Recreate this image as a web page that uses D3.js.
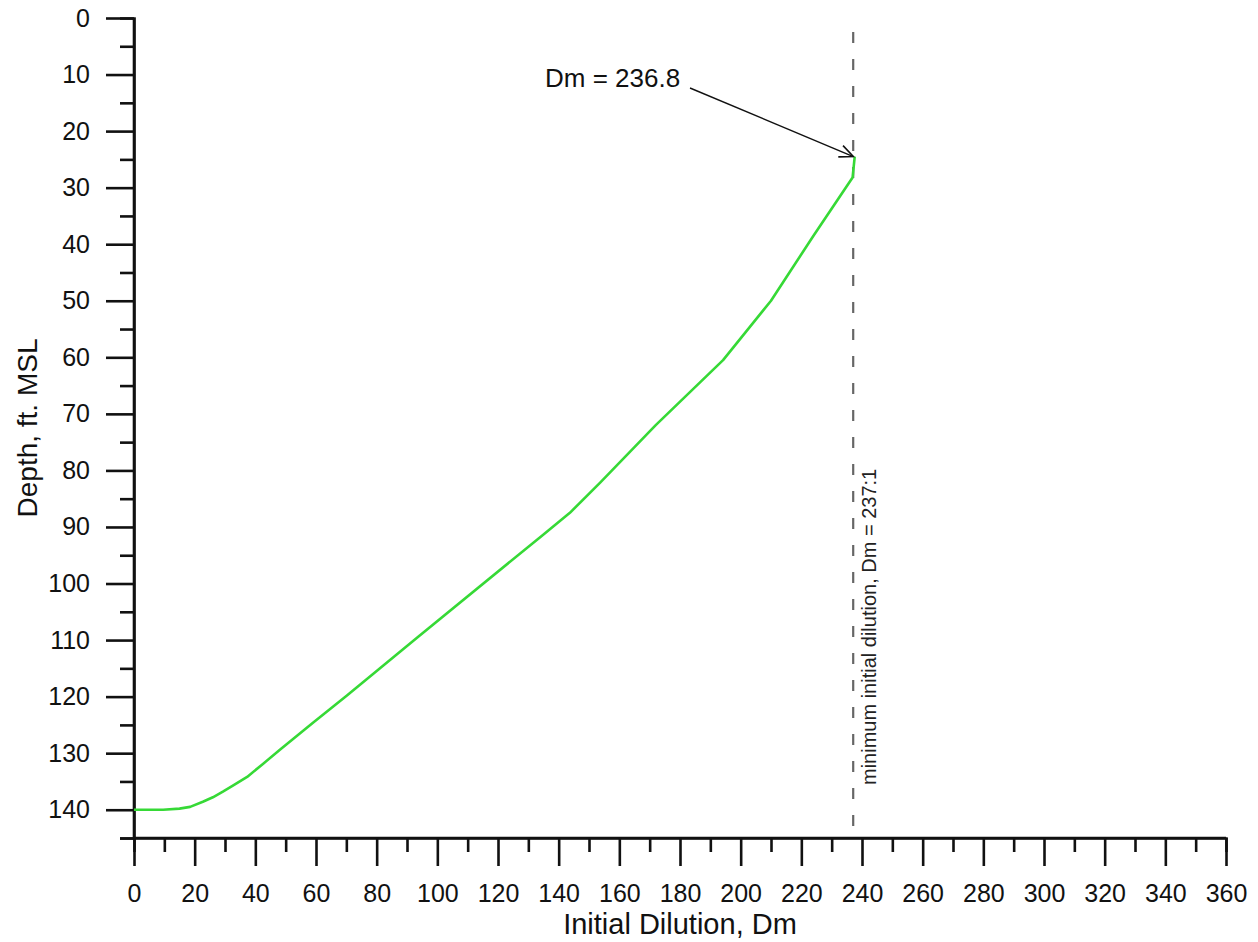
<!DOCTYPE html>
<html>
<head>
<meta charset="utf-8">
<script src="https://cdn.jsdelivr.net/npm/d3@7"></script>
<style>
  html, body { margin: 0; padding: 0; background: #fff; }
  svg { display: block; font-family: "Liberation Sans", Arial, sans-serif; }
</style>
</head>
<body>
<svg id="chart" width="1258" height="942"></svg>
<script>
// ---- data ----
const dilution = [0, 9.6, 15.0, 18.5, 22.7, 26.0, 29.3, 33.0, 37.3, 42.5, 48.1, 59.0, 70.2, 81.1, 93.3, 134.8, 143.7, 153.6, 172.0, 194.2, 210.0, 224.0, 236.9, 237.6];
const depth    = [140, 140, 139.8, 139.5, 138.6, 137.8, 136.8, 135.6, 134.2, 131.9, 129.4, 124.6, 119.8, 115.0, 109.6, 91.4, 87.5, 82.2, 72.0, 60.5, 50.0, 38.5, 28.2, 24.5];
const xMajorTicks = [0,20,40,60,80,100,120,140,160,180,200,220,240,260,280,300,320,340,360];
const xMinorTicks = [10,30,50,70,90,110,130,150,170,190,210,230,250,270,290,310,330,350];
const yMajorTicks = [0,10,20,30,40,50,60,70,80,90,100,110,120,130,140];
const yMinorTicks = [5,15,25,35,45,55,65,75,85,95,105,115,125,135,145];
const minDilution = 237.1;
const peakDilution = 236.8;
const peakDepth = 24.5;
const xTitle = "Initial Dilution, Dm";
const yTitle = "Depth, ft. MSL";
const peakLabel = "Dm = 236.8";
const refLabel = "minimum initial dilution, Dm = 237:1";

// ---- layout ----
const svg = d3.select("#chart");
const x = d3.scaleLinear().domain([0, 360]).range([134, 1226]);
const y = d3.scaleLinear().domain([0, 145]).range([18, 838]);

const axisColor = "#111";

// minor ticks
svg.append("g").attr("transform", `translate(${x(0)},0)`)
  .call(d3.axisLeft(y).tickValues(yMinorTicks).tickSize(14).tickFormat(""));
svg.append("g").attr("transform", `translate(0,${y(145)})`)
  .call(d3.axisBottom(x).tickValues(xMinorTicks).tickSize(14).tickFormat(""));

// major ticks
const yAx = svg.append("g").attr("transform", `translate(${x(0)},0)`)
  .call(d3.axisLeft(y).tickValues(yMajorTicks).tickSize(28).tickSizeOuter(0).tickPadding(16));
const xAx = svg.append("g").attr("transform", `translate(0,${y(145)})`)
  .call(d3.axisBottom(x).tickValues(xMajorTicks).tickSize(28).tickSizeOuter(0).tickPadding(18));

svg.selectAll(".tick line, .domain").attr("stroke", axisColor).attr("stroke-width", 2.6);
svg.selectAll(".tick text").attr("fill", "#111").style("font-size", "25px")
  .style("font-family", '"Liberation Sans", Arial, sans-serif');
yAx.select(".domain").attr("d", `M0,${y(0)}V${y(145)}`);
xAx.select(".domain").attr("d", `M${x(0)},0H${x(360)}`);

// dashed reference line
svg.append("line")
  .attr("x1", x(minDilution)).attr("x2", x(minDilution))
  .attr("y1", 32).attr("y2", y(145))
  .attr("stroke", "#666").attr("stroke-width", 2.2)
  .attr("stroke-dasharray", "11,16");

// rotated reference label
svg.append("text")
  .attr("transform", `translate(${x(minDilution) + 23},785) rotate(-90)`)
  .attr("fill", "#222").style("font-size", "20px")
  .text(refLabel);

// curve
const line = d3.line().x(d => x(d[0])).y(d => y(d[1])).curve(d3.curveLinear);
svg.append("path")
  .datum(dilution.map((d, i) => [d, depth[i]]))
  .attr("d", line)
  .attr("fill", "none")
  .attr("stroke", "#36d936")
  .attr("stroke-width", 2.6)
  .attr("stroke-linejoin", "round");

// annotation
svg.append("text").attr("x", 545).attr("y", 87)
  .attr("fill", "#111").style("font-size", "26px").text(peakLabel);

const ax0 = 690, ay0 = 88;
const ax1 = x(peakDilution) + 1, ay1 = y(peakDepth);
svg.append("line").attr("x1", ax0).attr("y1", ay0).attr("x2", ax1).attr("y2", ay1)
  .attr("stroke", "#111").attr("stroke-width", 1.4);
const ang = Math.atan2(ay1 - ay0, ax1 - ax0);
const hl = 15, ha = 0.42;
svg.append("path")
  .attr("d", `M${ax1 - hl*Math.cos(ang - ha)},${ay1 - hl*Math.sin(ang - ha)}L${ax1},${ay1}L${ax1 - hl*Math.cos(ang + ha)},${ay1 - hl*Math.sin(ang + ha)}`)
  .attr("fill", "none").attr("stroke", "#111").attr("stroke-width", 1.6);

// axis titles
svg.append("text").attr("x", (x(0) + x(360)) / 2).attr("y", 934)
  .attr("text-anchor", "middle").attr("fill", "#111").style("font-size", "29px")
  .text(xTitle);
svg.append("text")
  .attr("transform", `translate(37,${(y(0) + y(145)) / 2}) rotate(-90)`)
  .attr("text-anchor", "middle").attr("fill", "#111").style("font-size", "28px")
  .text(yTitle);
</script>
</body>
</html>
